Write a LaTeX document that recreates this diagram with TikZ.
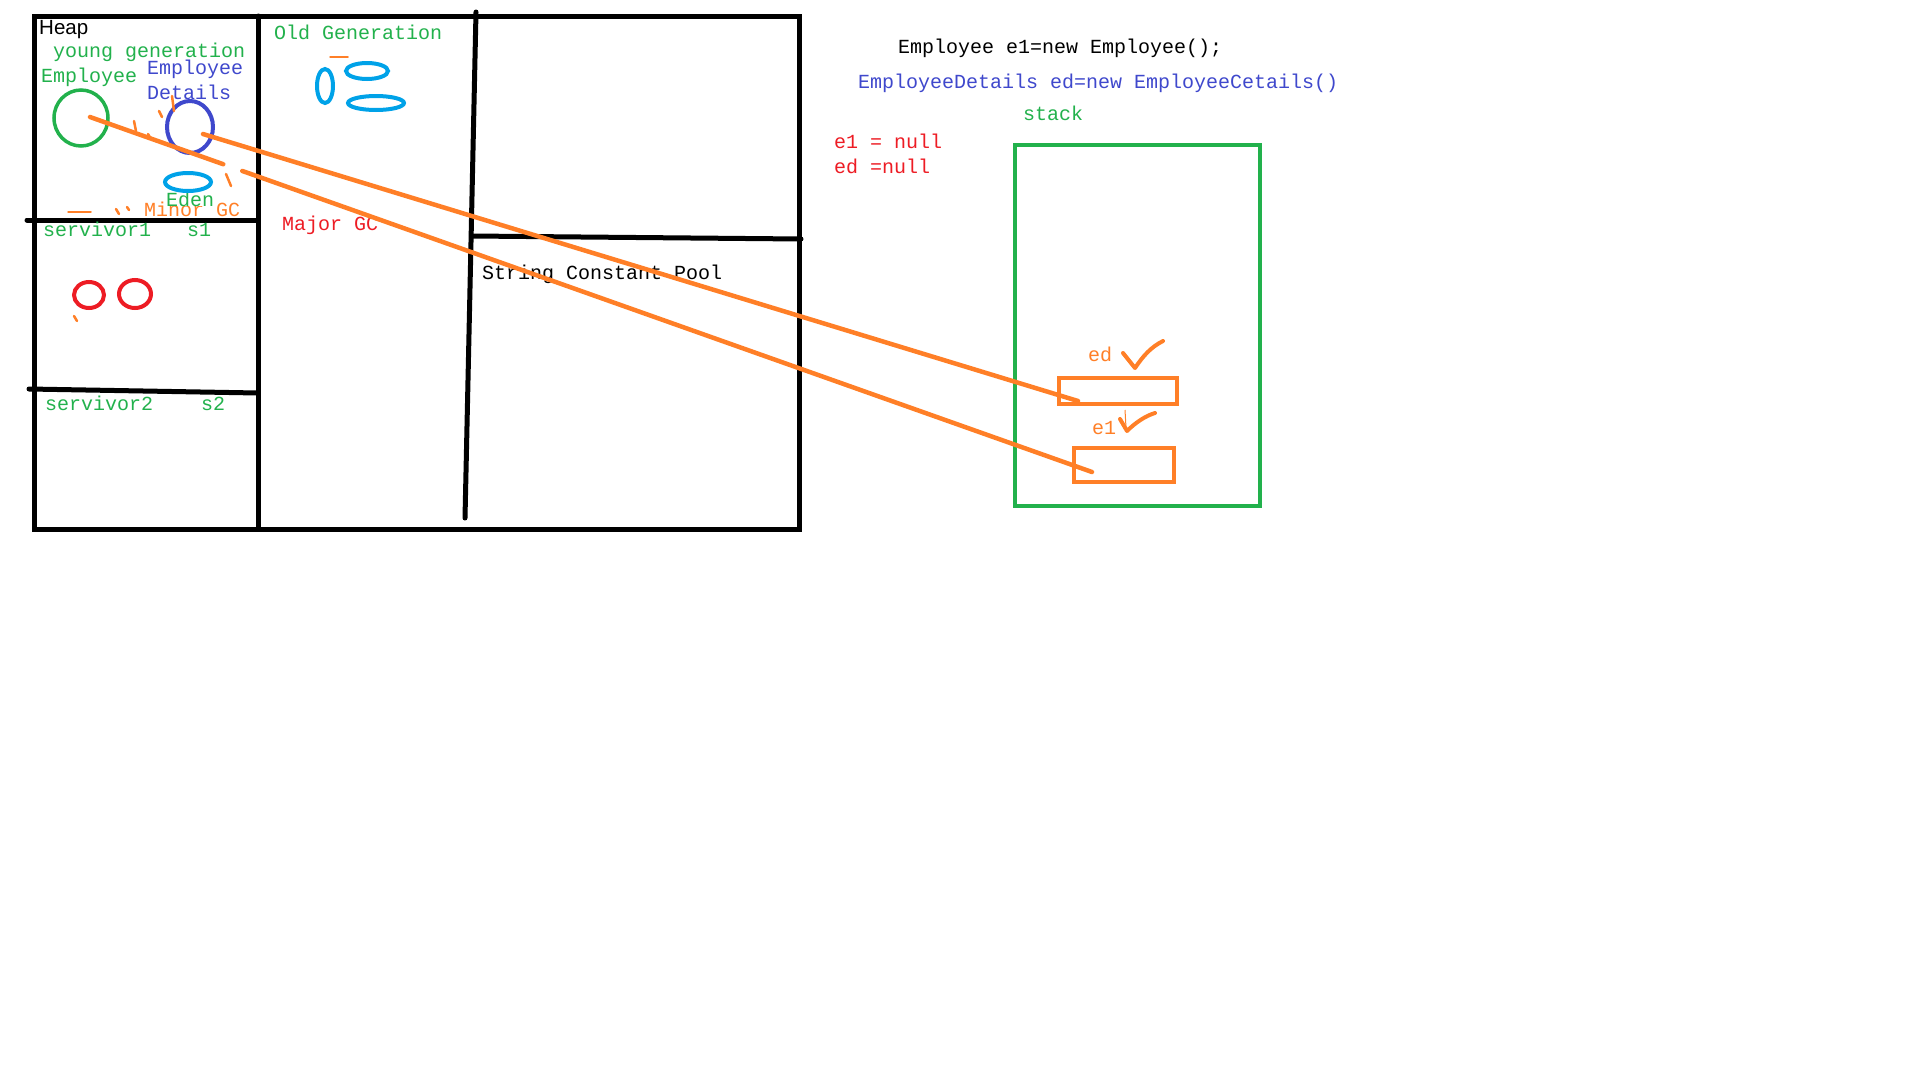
\documentclass[tikz,border=0pt]{standalone}
\usepackage{fontspec}
\setmainfont{Liberation Mono}
\newfontfamily\heapfont{Liberation Sans}
\usetikzlibrary{calc}

\definecolor{paintgreen}{HTML}{22B14C}
\definecolor{paintblue}{HTML}{3F48CC}
\definecolor{paintcyan}{HTML}{00A2E8}
\definecolor{paintred}{HTML}{ED1C24}
\definecolor{paintorange}{HTML}{FF7F27}

\begin{document}
\begin{tikzpicture}[x=1pt, y=-1pt,
    wall/.style={line width=5pt, line cap=round},
    lbl/.style={anchor=west, inner sep=0pt, font=\fontsize{20}{24}\selectfont},
    obj/.style={line width=4pt},
    ref/.style={paintorange, line width=4.5pt, line cap=round},
    slot/.style={draw=paintorange, line width=4pt, anchor=north west, inner sep=0pt},
    speck/.style={paintorange, line width=2.5pt, line cap=round},
    tick/.style={paintorange, line width=4pt, line cap=round, line join=round}]
  \useasboundingbox (0,0) rectangle (1924,1066);

  % heap areas
  \coordinate (H1) at (34,16);
  \coordinate (H2) at (799,529);
  \draw[wall] (H1) rectangle (H2);
  \draw[wall] (258,16) -- (258,529);
  \draw[wall] (27,220) -- (258,220);
  \draw[wall] (29,389) -- (258,393);
  \draw[wall] (476,12) -- (465,518);
  \draw[wall] (472,236) -- (801,239);

  \node[lbl, font=\heapfont\fontsize{20.5}{24}\selectfont] (heap) at (39,30) {Heap};
  \node[lbl, paintgreen] (young) at (53,52) {young generation};
  \node[lbl, paintgreen] (emptxt) at (41,77) {Employee};
  \node[lbl, paintblue] (dettxt) at (147,69) {Employee};
  \node[lbl, paintblue] (dettxt2) at (147,92) {Details};
  \node[lbl, paintorange] (minor) at (144,209) {Minor GC};
  \node[lbl, paintgreen, fill=white] (eden) at (166,199) {Eden};
  \node[lbl, paintgreen] (s1) at (43,229) {servivor1\ \ \ s1};
  \node[lbl, paintgreen] (s2) at (45,403) {servivor2\ \ \ \ s2};
  \node[lbl, paintgreen] (old) at (274,32) {Old Generation};
  \node[lbl, paintred] (major) at (282,225) {Major GC};
  \node[lbl] (pool) at (482,274) {String Constant Pool};

  % objects
  \coordinate (empobj) at (81,118);
  \coordinate (detobj) at (190,127);
  \draw[obj, paintgreen, line width=3.5pt] (empobj) ellipse (27 and 28);
  \draw[obj, paintblue] (detobj) ellipse (23 and 26);
  \draw[obj, paintcyan] (188,182) ellipse (23 and 9);
  \draw[obj, paintred] (89,295) ellipse (15 and 13);
  \draw[obj, paintred] (135,294) ellipse (16 and 14);
  \draw[obj, paintcyan] (325,86) ellipse (8 and 17);
  \draw[obj, paintcyan] (367,71) ellipse (21 and 8);
  \draw[obj, paintcyan] (376,103) ellipse (28 and 7);

  % leftover marks
  \draw[speck] (172,96) -- (174,111);
  \draw[speck] (159,111) -- (162,117);
  \draw[speck] (134,121) -- (136,131);
  \draw[speck] (148,134) -- (151,139);
  \draw[speck] (226,174) -- (231,186);
  \draw[speck, line width=1.5pt] (68,212) -- (91,212);
  \draw[speck] (116,209) -- (119,214);
  \draw[speck] (127,207) -- (129,210);
  \draw[speck] (74,316) -- (77,321);
  \draw[speck, line width=1.5pt] (330,57) -- (348,57);

  % code
  \node[lbl] (code1) at (898,48) {Employee e1=new Employee();};
  \node[lbl, paintblue] (code2) at (858,83) {EmployeeDetails ed=new EmployeeCetails()};
  \node[lbl, paintgreen] (stacktxt) at (1023,113) {stack};
  \node[lbl, paintred] (nulle1) at (834,141) {e1 = null};
  \node[lbl, paintred] (nulled) at (834,166) {ed =null};

  % stack
  \draw[paintgreen, line width=4pt] (1015,145) rectangle (1260,506);
  \node[slot, minimum width=118pt, minimum height=26pt] (edbox) at (1057,376) {};
  \node[slot, minimum width=100pt, minimum height=34pt] (e1box) at (1072,446) {};
  \node[lbl, paintorange] (edtxt) at (1088,354) {ed};
  \node[lbl, paintorange] (e1txt) at (1092,428) {e1};
  \draw[tick] (1123,353) -- (1135,368) .. controls (1143,356) and (1151,347) .. (1163,341);
  \draw[tick] (1120,419) -- (1127,431) .. controls (1135,423) and (1145,416) .. (1155,413);
  \draw[paintorange, line width=1pt] (1125,410) -- (1126,428);

  % references
  \coordinate (empref) at (90,117);
  \coordinate (detref) at (203,134);
  \coordinate (edref) at ($(edbox.south west)+(21,-5)$);
  \coordinate (e1ref) at ($(e1box.south west)+(20,-12)$);
  \coordinate (cutA) at ($(empref)!0.133!(e1ref)$);
  \coordinate (cutB) at ($(empref)!0.152!(e1ref)$);
  \draw[ref] (detref) -- (edref);
  \draw[ref] (empref) -- (cutA);
  \draw[ref] (cutB) -- (e1ref);
\end{tikzpicture}
\end{document}
